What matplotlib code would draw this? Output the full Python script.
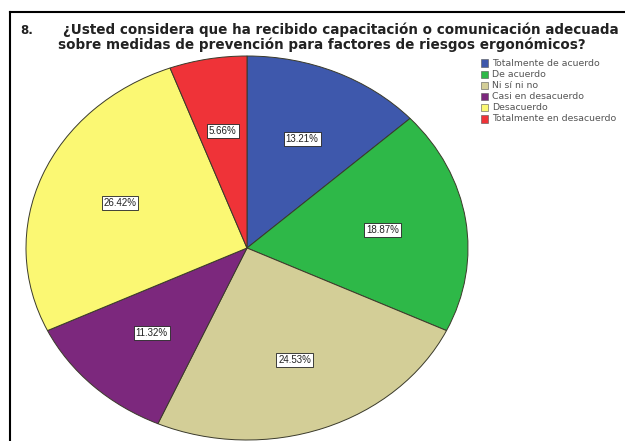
import matplotlib
matplotlib.use("Agg")
import matplotlib.pyplot as plt
from matplotlib.patches import Rectangle
from matplotlib.lines import Line2D

# Survey responses, question 8
categories = ["Totalmente de acuerdo", "De acuerdo", "Ni sí ni no",
              "Casi en desacuerdo", "Desacuerdo", "Totalmente en desacuerdo"]
percentages = [13.21, 18.87, 24.53, 11.32, 26.42, 5.66]
colors = ["#3E58AC", "#2EB848", "#D3CE97", "#7C287D", "#FBF873", "#EF3338"]

title_num = "8."
title_line1 = "¿Usted considera que ha recibido capacitación o comunicación adecuada"
title_line2 = "sobre medidas de prevención para factores de riesgos ergonómicos?"

W, H = 625, 441
plt.rcParams["font.family"] = ["DejaVu Sans"]
fig = plt.figure(figsize=(W / 100, H / 100), dpi=100)
fig.patch.set_facecolor("white")
renderer = fig.canvas.get_renderer()


def fit_width(txt, target_px):
    """Scale a text's font size so that it spans target_px pixels."""
    w = txt.get_window_extent(renderer).width
    txt.set_fontsize(txt.get_fontsize() * target_px / w)


ax = fig.add_axes([0, 0, 1, 1])

# pie centre and radii in pixels (the pie is drawn stretched into an ellipse)
cx, cy, rx, ry = 247, 248, 221, 192

wedges, _texts, autotexts = ax.pie(
    percentages, colors=colors, startangle=90, counterclock=False,
    autopct=lambda p: f"{p:.2f}%", pctdistance=0.62,
    wedgeprops=dict(edgecolor="#3a3a2a", linewidth=0.7),
    textprops=dict(fontsize=7.0, color="#222222", family="Liberation Sans"),
)
for t in autotexts:
    t.set_bbox(dict(boxstyle="square,pad=0.2", facecolor="white",
                    edgecolor="#222222", linewidth=0.6))

ax.set_aspect("auto")
ax.set_xlim(-cx / rx, (W - cx) / rx)
ax.set_ylim((cy - H) / ry, cy / ry)
ax.axis("off")

# outer frame
fig.add_artist(Line2D([10 / W, 10 / W], [0, 1 - 12 / H], color="black",
                      linewidth=1.5, transform=fig.transFigure))
fig.add_artist(Line2D([10 / W, 1], [1 - 12 / H, 1 - 12 / H], color="black",
                      linewidth=1.5, transform=fig.transFigure))

# title
fig.text(20 / W, 1 - 30 / H, title_num, fontsize=8.5, fontweight="bold",
         va="center", ha="left", color="#222222")
t1 = fig.text(63 / W, 1 - 30 / H, title_line1, fontsize=10, fontweight="bold",
              va="center", ha="left", color="#222222")
t2 = fig.text(58 / W, 1 - 45 / H, title_line2, fontsize=10, fontweight="bold",
              va="center", ha="left", color="#222222")
fit_width(t1, 558)
t2.set_fontsize(t1.get_fontsize())

# legend
lx, ly0, dy = 481, 63, 11.2
legend_texts = []
for i, (lab, col) in enumerate(zip(categories, colors)):
    y = ly0 + i * dy
    fig.add_artist(Rectangle((lx / W, 1 - (y + 3.5) / H), 7 / W, 7 / H,
                             facecolor=col, edgecolor="#555555", linewidth=0.4,
                             transform=fig.transFigure))
    legend_texts.append(fig.text((lx + 11) / W, 1 - y / H, lab, fontsize=6.3,
                                 color="#555555", va="center", ha="left"))
fit_width(legend_texts[-1], 124)
for t in legend_texts:
    t.set_fontsize(legend_texts[-1].get_fontsize())

fig.savefig("out.png", dpi=100)
